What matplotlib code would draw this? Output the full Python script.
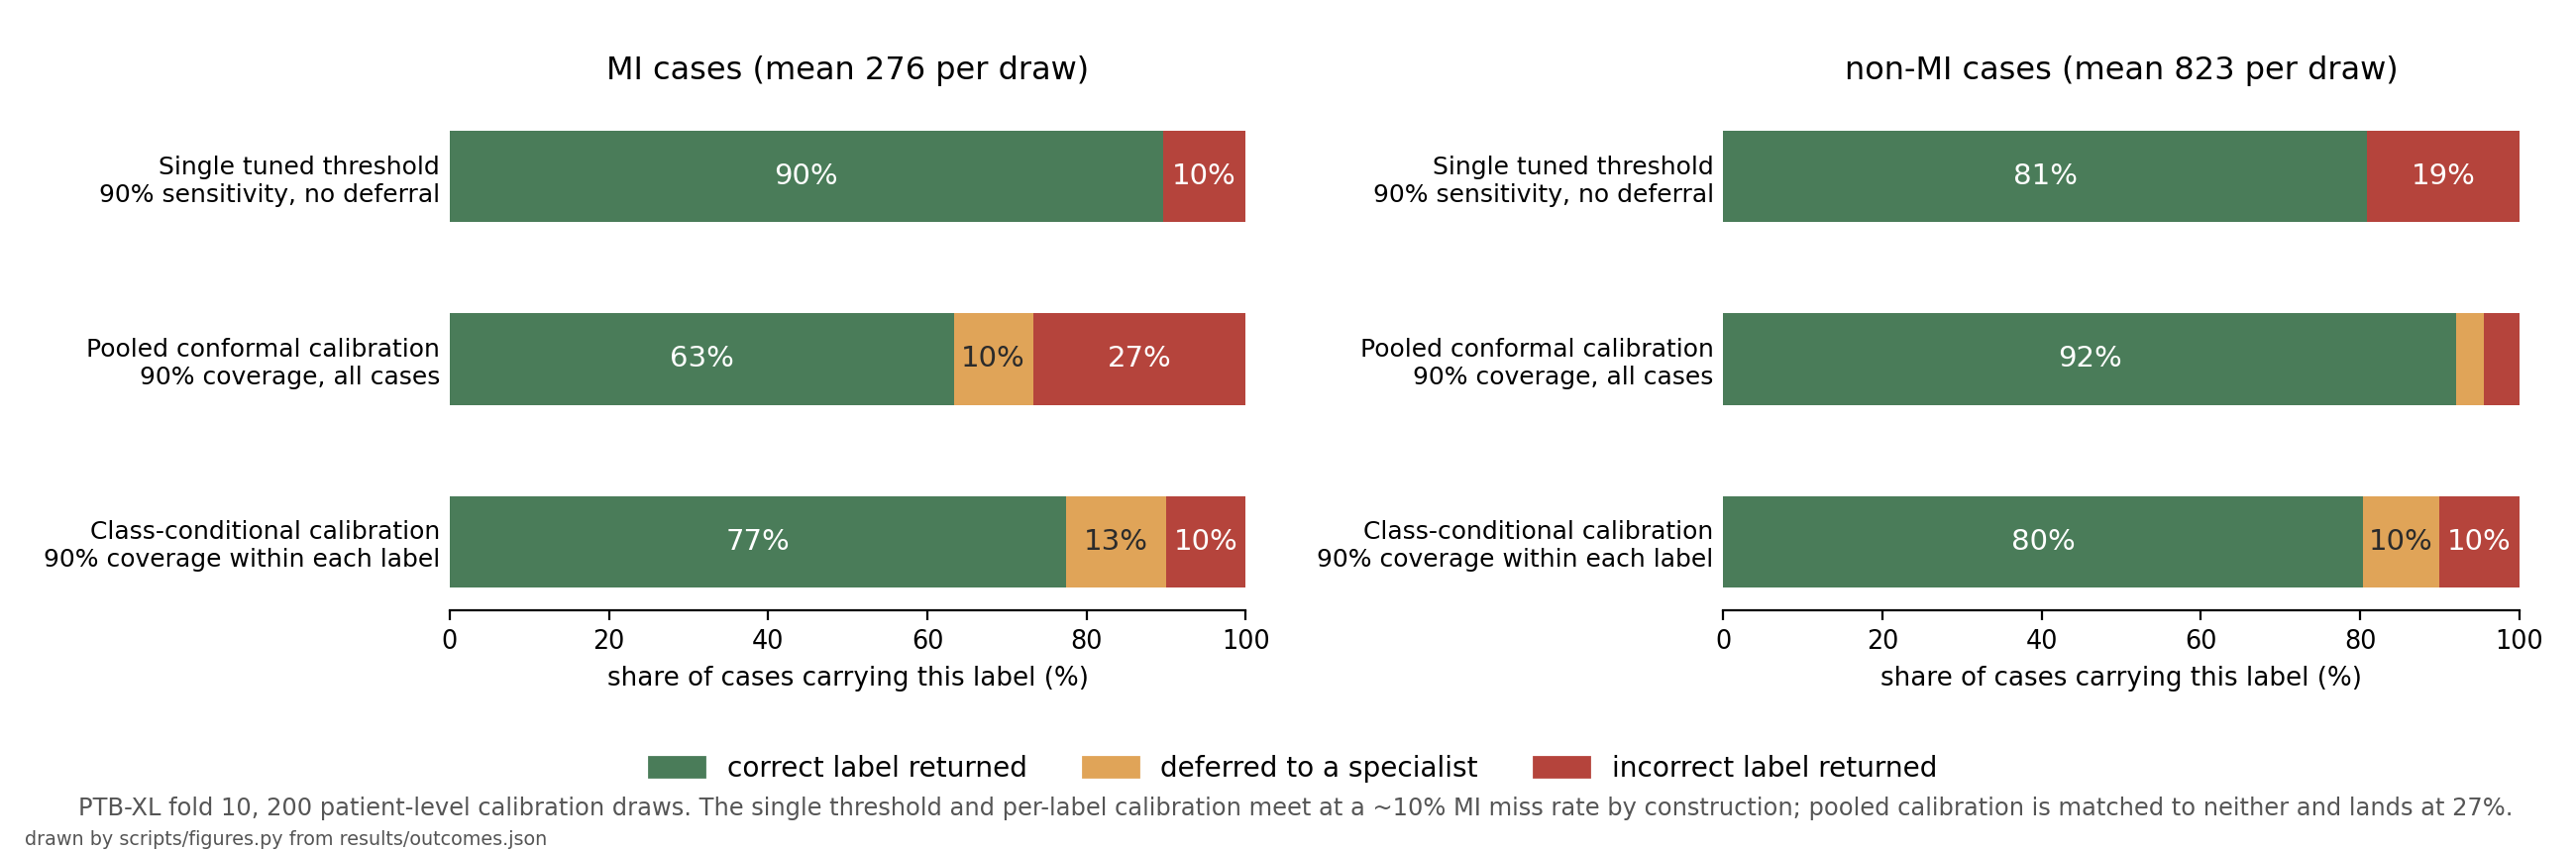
import matplotlib
matplotlib.use("Agg")
import matplotlib.pyplot as plt
from matplotlib.patches import Patch

# rows, top to bottom
methods = [
    "Single tuned threshold\n90% sensitivity, no deferral",
    "Pooled conformal calibration\n90% coverage, all cases",
    "Class-conditional calibration\n90% coverage within each label",
]

# share of cases (%) per method: correct / deferred / incorrect
mi_correct = [89.6, 63.3, 77.4]
mi_deferred = [0.0, 10.0, 12.6]
mi_incorrect = [10.4, 26.7, 10.0]

non_mi_correct = [80.9, 92.1, 80.3]
non_mi_deferred = [0.0, 3.5, 9.7]
non_mi_incorrect = [19.1, 4.4, 10.0]

panel_titles = ["MI cases (mean 276 per draw)", "non-MI cases (mean 823 per draw)"]
outcome_names = ["correct label returned", "deferred to a specialist", "incorrect label returned"]

colors = ["#4a7c59", "#e0a458", "#b5443c"]
text_colors = ["white", "#2b2b2b", "white"]


def draw_panel(ax, title, parts):
    ypos = list(range(len(methods)))
    left = [0.0] * len(methods)
    for k, vals in enumerate(parts):
        ax.barh(ypos, vals, left=left, height=0.5, color=colors[k])
        for i, v in enumerate(vals):
            # only label segments wide enough to hold the text
            if v >= 6:
                ax.text(left[i] + v / 2, ypos[i], f"{v:.0f}%", ha="center", va="center",
                        color=text_colors[k], fontsize=10.5)
        left = [a + b for a, b in zip(left, vals)]
    ax.set_yticks(ypos)
    ax.set_yticklabels(methods, fontsize=9)
    ax.invert_yaxis()
    ax.set_xlim(0, 100)
    ax.tick_params(axis="y", length=0)
    ax.tick_params(axis="x", labelsize=9.2)
    ax.set_xlabel("share of cases carrying this label (%)", fontsize=9.4)
    ax.set_title(title, fontsize=11.5, pad=10.5)
    for side in ["top", "right", "left"]:
        ax.spines[side].set_visible(False)


fig, axes = plt.subplots(1, 2, figsize=(13, 4.3), dpi=200)
fig.subplots_adjust(left=0.1746, right=0.978, top=0.873, bottom=0.284, wspace=0.6)

draw_panel(axes[0], panel_titles[0], [mi_correct, mi_deferred, mi_incorrect])
draw_panel(axes[1], panel_titles[1], [non_mi_correct, non_mi_deferred, non_mi_incorrect])

handles = [Patch(color=c, label=n) for c, n in zip(colors, outcome_names)]
fig.legend(handles=handles, loc="center", bbox_to_anchor=(0.502, 0.098), ncol=3,
           frameon=False, fontsize=10.1)

fig.text(0.503, 0.051,
         "PTB-XL fold 10, 200 patient-level calibration draws. The single threshold and per-label "
         "calibration meet at a ~10% MI miss rate by construction; pooled calibration is matched "
         "to neither and lands at 27%.",
         ha="center", va="center", fontsize=8.7, color="#555555")
fig.text(0.0096, 0.014, "drawn by scripts/figures.py from results/outcomes.json",
         ha="left", va="center", fontsize=6.9, color="#555555")

fig.savefig("out.png", dpi=200)
